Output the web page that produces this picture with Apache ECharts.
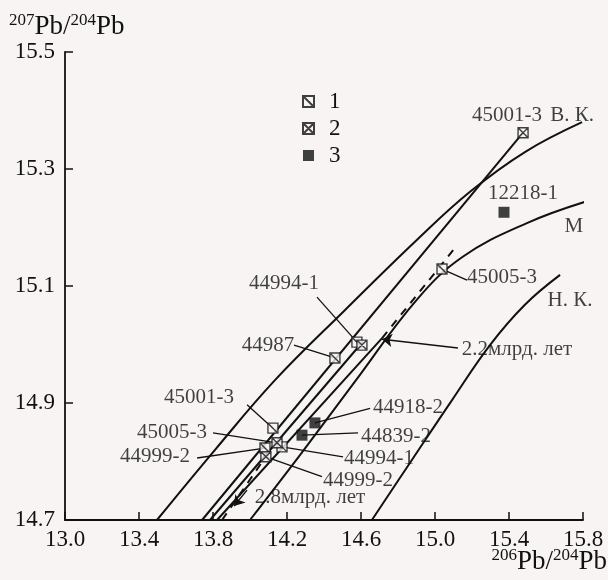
<!DOCTYPE html>
<html><head><meta charset="utf-8">
<script src="https://cdn.jsdelivr.net/npm/echarts@6/dist/echarts.min.js"></script>
<style>html,body{margin:0;padding:0;background:#f8f4f4}#c{width:608px;height:580px}</style>
</head><body><div id="c"></div>
<script>
// ---- axis ticks ----
const xMin = 13.0, xMax = 15.8, xStep = 0.4;
const yMin = 14.7, yMax = 15.5, yStep = 0.2;

// ---- sample points ----
const type1Names = ['45005-3','44987','44994-1','45001-3','44994-1','44999-2'];
const type1X = [15.038,14.459,14.578,14.124,14.173,14.081];
const type1Y = [15.129,14.977,15.004,14.857,14.825,14.823];
const type2Names = ['45001-3','44994-1','45005-3','44999-2'];
const type2X = [15.476,14.605,14.146,14.086];
const type2Y = [15.362,14.999,14.832,14.808];
const type3Names = ['12218-1','44918-2','44839-2'];
const type3X = [15.373,14.351,14.281];
const type3Y = [15.226,14.866,14.845];

// ---- growth curves ----
const vkX = [13.497,13.811,14.135,14.514,14.903,15.189,15.486,15.795];
const vkY = [14.700,14.820,14.939,15.059,15.179,15.261,15.329,15.380];
const mX = [14.000,14.270,14.573,14.900,15.150,15.500,15.811];
const mY = [14.700,14.811,14.939,15.076,15.150,15.208,15.244];
const nkX = [14.659,14.876,15.092,15.297,15.486,15.676];
const nkY = [14.700,14.803,14.905,14.999,15.068,15.119];

// ---- straight lines ----
const lineBX = [13.741,15.476], lineBY = [14.700,15.362];
const lineCX = [13.784,14.605], lineCY = [14.700,15.003];
const lineDX = [13.822,14.714], lineDY = [14.700,15.011];
const lineDdX = [14.714,15.108], lineDdY = [15.011,15.165];
const dash28X = [13.849,14.065], dash28Y = [14.700,14.799];

// ---- text annotations ----
const labelText = ['45001-3','В. К.','12218-1','М','45005-3','Н. К.','44994-1','44987','2.2млрд. лет',
  '44918-2','44839-2','44994-1','44999-2','2.8млрд. лет','45001-3','45005-3','44999-2'];
const labelX = [15.389,15.741,15.476,15.751,15.362,15.730,14.184,14.097,15.443,
  14.854,14.789,14.697,14.584,14.324,13.724,13.578,13.486];
const labelY = [15.392,15.392,15.259,15.201,15.114,15.076,15.105,14.999,14.991,
  14.893,14.842,14.806,14.768,14.738,14.909,14.849,14.808];

// leader lines: start at a sample point, end near its label
const leadStartX = [15.038,14.578,14.459,14.124,14.146,14.081,14.351,14.281,14.173,14.086];
const leadStartY = [15.129,15.004,14.977,14.857,14.832,14.823,14.866,14.845,14.825,14.808];
const leadEndX   = [15.173,14.362,14.238,13.984,13.800,13.714,14.649,14.584,14.503,14.389];
const leadEndY   = [15.110,15.081,14.999,14.897,14.849,14.806,14.891,14.849,14.808,14.774];

// arrows (from label to line)
const arrowFromX = [15.124,13.984], arrowFromY = [14.994,14.751];
const arrowToX   = [14.714,13.914], arrowToY   = [15.009,14.724];

const INK = '#111';
const BG = '#f8f4f4';
const FONT = '"Liberation Serif","DejaVu Serif",serif';
const zip = (xs, ys) => xs.map((x, i) => [x, ys[i]]);
const pts = (xs, ys, ns) => xs.map((x, i) => ({ value: [x, ys[i]], name: ns[i] }));

const chart = echarts.init(document.getElementById('c'), null, { renderer: 'canvas' });

const curve = (name, xs, ys, smooth, type) => ({
  type: 'line', name, data: zip(xs, ys), smooth: smooth ? 0.4 : false, symbol: 'none',
  lineStyle: { color: INK, width: 2, type: type || 'solid' }, silent: true, z: 2
});

const sym1 = 'path://M0,0H10V10H0ZM0,0L10,10';
const sym2 = 'path://M0,0H10V10H0ZM0,0L10,10M10,0L0,10';
const richName = {
  s: { fontSize: 17, fontFamily: FONT, fill: INK, padding: [0, 0, 13, 0] },
  b: { fontSize: 27, fontFamily: FONT, fill: INK }
};

const option = {
  backgroundColor: BG,
  animation: false,
  grid: { left: 65, right: 25, top: 52, bottom: 60 },
  xAxis: {
    type: 'value', min: xMin, max: xMax, interval: xStep,
    axisLine: { show: true, lineStyle: { color: INK, width: 1.8 } },
    axisTick: { show: true, inside: true, length: 8, lineStyle: { color: INK, width: 1.5 } },
    axisLabel: { color: INK, fontSize: 23, fontFamily: FONT, margin: 8, formatter: v => v.toFixed(1) },
    splitLine: { show: false }
  },
  yAxis: {
    type: 'value', min: yMin, max: yMax, interval: yStep,
    axisLine: { show: true, lineStyle: { color: INK, width: 1.8 } },
    axisTick: { show: true, inside: true, length: 8, lineStyle: { color: INK, width: 1.5 } },
    axisLabel: { color: INK, fontSize: 23, fontFamily: FONT, margin: 10, formatter: v => v.toFixed(1) },
    splitLine: { show: false }
  },
  legend: {
    data: ['1', '2', '3'], orient: 'vertical', left: 297, top: 85,
    itemWidth: 11, itemHeight: 11, itemGap: 4,
    textStyle: { color: INK, fontSize: 23, fontFamily: FONT, padding: [0, 0, 0, 10] }
  },
  graphic: [
    { type: 'text', left: 9, top: 12, silent: true,
      style: { text: '{s|207}{b|Pb/}{s|204}{b|Pb}', fill: INK, rich: richName } },
    { type: 'text', right: 1, top: 547, silent: true,
      style: { text: '{s|206}{b|Pb/}{s|204}{b|Pb}', fill: INK, rich: richName } }
  ],
  series: [
    curve('ВК', vkX, vkY, true),
    curve('М', mX, mY, true),
    curve('НК', nkX, nkY, true),
    curve('b', lineBX, lineBY, false),
    curve('c', lineCX, lineCY, false),
    curve('d', lineDX, lineDY, false),
    curve('dd', lineDdX, lineDdY, false, [8, 7]),
    curve('d28', dash28X, dash28Y, false, [8, 7]),
    {
      type: 'lines', coordinateSystem: 'cartesian2d', silent: true, z: 3,
      lineStyle: { color: INK, width: 1.3, opacity: 1 }, symbol: 'none',
      data: leadStartX.map((x, i) => ({ coords: [[x, leadStartY[i]], [leadEndX[i], leadEndY[i]]] }))
    },
    {
      type: 'lines', coordinateSystem: 'cartesian2d', silent: true, z: 3,
      lineStyle: { color: INK, width: 1.4, opacity: 1 }, symbol: ['none', 'arrow'], symbolSize: [0, 10],
      data: arrowFromX.map((x, i) => ({ coords: [[x, arrowFromY[i]], [arrowToX[i], arrowToY[i]]] }))
    },
    {
      type: 'scatter', name: '1', data: pts(type1X, type1Y, type1Names), symbol: sym1, symbolSize: 10,
      itemStyle: { color: BG, borderColor: INK, borderWidth: 1.4 }, z: 5
    },
    {
      type: 'scatter', name: '2', data: pts(type2X, type2Y, type2Names), symbol: sym2, symbolSize: 10,
      itemStyle: { color: BG, borderColor: INK, borderWidth: 1.4 }, z: 5
    },
    {
      type: 'scatter', name: '3', data: pts(type3X, type3Y, type3Names), symbol: 'rect', symbolSize: 11,
      itemStyle: { color: INK }, z: 5
    },
    {
      type: 'scatter', name: 'labels', silent: true, symbolSize: 0, z: 6,
      data: labelX.map((x, i) => ({ value: [x, labelY[i]], name: labelText[i] })),
      label: { show: true, position: 'inside', formatter: p => p.name, color: INK,
               fontSize: 21, fontFamily: FONT }
    }
  ]
};
chart.setOption(option);
</script></body></html>
